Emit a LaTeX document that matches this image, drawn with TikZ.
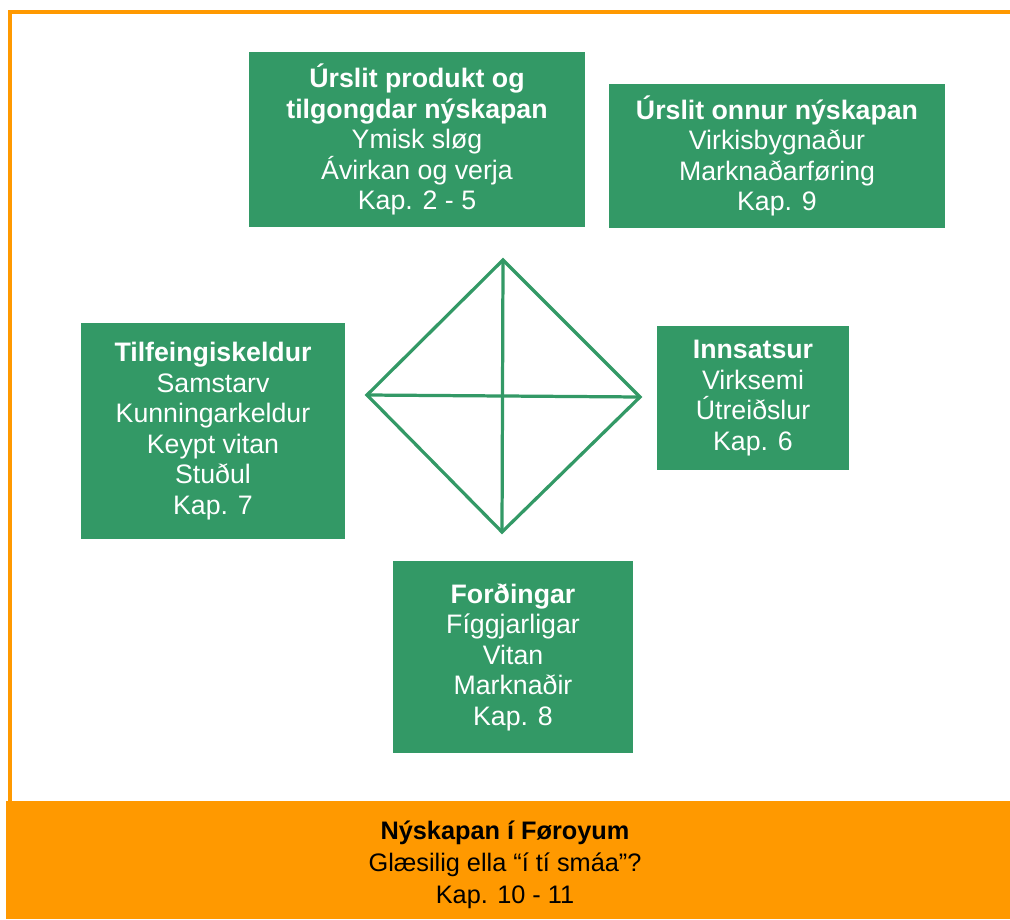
\documentclass[tikz,border=0pt]{standalone}
\usepackage{fontspec}
\setmainfont{Liberation Sans}
\usepackage{tikz}
\definecolor{boxGreen}{HTML}{339966}
\definecolor{frameOrange}{HTML}{FF9900}
\newcommand{\pxUnit}{0.025cm}
\newcommand{\frameWidth}{2.5pt}
\newcommand{\diamondWidth}{2.3pt}
\newcommand{\boxFont}{\fontsize{19}{21.7}\selectfont}
\newcommand{\footerFont}{\fontsize{18}{22.8}\selectfont}

\tikzset{
  greenBox/.style={fill=boxGreen, text=white, align=center, inner sep=0pt, font=\boxFont},
  footerText/.style={text=black, align=center, inner sep=0pt, font=\footerFont},
  diamondLine/.style={draw=boxGreen, line width=\diamondWidth, line join=miter}
}

\begin{document}
\begin{tikzpicture}[x=\pxUnit, y=-\pxUnit]
\useasboundingbox (0,0) rectangle (1010,919);
\draw[frameOrange, line width=\frameWidth] (1010,12) -- (10,12) -- (10,801);
\fill[frameOrange] (6,801) rectangle (1010,919);

\node (results) [greenBox, minimum width=336*\pxUnit, minimum height=175*\pxUnit] at (417,139.5)
  {\textbf{Úrslit produkt og}\\\textbf{tilgongdar nýskapan}\\Ymisk sløg\\Ávirkan og verja\\Kap. 2 - 5};
\node (otherResults) [greenBox, minimum width=336*\pxUnit, minimum height=144*\pxUnit] at (777,156)
  {\textbf{Úrslit onnur nýskapan}\\Virkisbygnaður\\Marknaðarføring\\Kap. 9};
\node (sources) [greenBox, minimum width=264*\pxUnit, minimum height=216*\pxUnit] at (213,431)
  {\textbf{Tilfeingiskeldur}\\Samstarv\\Kunningarkeldur\\Keypt vitan\\Stuðul\\Kap. 7};
\node (inputs) [greenBox, minimum width=192*\pxUnit, minimum height=144*\pxUnit] at (753,398)
  {\textbf{Innsatsur}\\Virksemi\\Útreiðslur\\Kap. 6};
\node (conditions) [greenBox, minimum width=240*\pxUnit, minimum height=192*\pxUnit] at (513,657)
  {\textbf{Forðingar}\\Fíggjarligar\\Vitan\\Marknaðir\\Kap. 8};

\coordinate (dTop) at (503,260);
\coordinate (dRight) at (640,397);
\coordinate (dBottom) at (502,532);
\coordinate (dLeft) at (367,395);
\draw[diamondLine] (dTop) -- (dRight) -- (dBottom) -- (dLeft) -- cycle;
\draw[diamondLine] (dTop) -- (dBottom);
\draw[diamondLine] (dLeft) -- (dRight);

\node (footer) [footerText] at (505,865)
  {\textbf{Nýskapan í Føroyum}\\Glæsilig ella “í tí smáa”?\\Kap. 10 - 11};
\end{tikzpicture}
\end{document}
